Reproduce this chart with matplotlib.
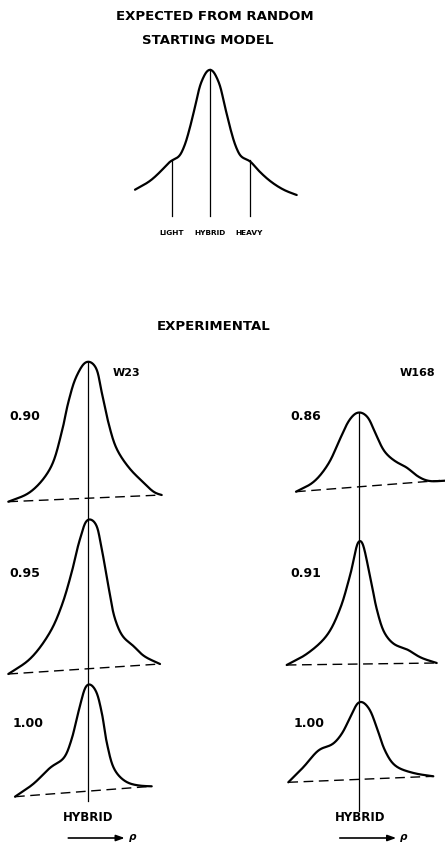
import numpy as np
import matplotlib
matplotlib.use("Agg")
import matplotlib.pyplot as plt

# ---------------- data (pixel coordinates) ----------------
title_lines = ["EXPECTED FROM RANDOM", "STARTING MODEL"]
model_labels = ["LIGHT", "HYBRID", "HEAVY"]
model_label_x = [171.7, 210.0, 249.5]

# expected model curve
model_x = [135.0, 150.0, 163.0, 171.7, 178.0, 184.0, 189.0, 195.0, 201.7, 210.0,
           218.3, 225.0, 231.0, 236.0, 242.0, 249.0, 257.0, 270.0, 284.0, 296.7]
model_y = [190.7, 182.0, 170.0, 161.0, 159.0, 148.0, 132.0, 108.0, 82.0, 69.3,
           82.0, 108.0, 132.0, 148.0, 159.0, 161.0, 170.0, 182.0, 191.0, 196.0]

# W23 panels
w23_090_x = [8.3, 30.0, 50.0, 61.7, 68.3, 76.7, 87.3, 95.0, 101.7, 108.3, 116.7, 130.0, 143.3, 155.0, 161.7]
w23_090_y = [502.7, 493.3, 470.0, 433.3, 403.3, 376.7, 361.7, 366.7, 393.3, 423.3, 450.0, 470.0, 483.3, 494.0, 496.0]
w23_095_x = [8.3, 30.0, 50.0, 61.7, 71.7, 80.0, 88.3, 95.0, 101.7, 108.3, 115.0, 123.3, 133.3, 143.3, 160.0]
w23_095_y = [675.0, 660.0, 633.3, 606.7, 573.3, 540.0, 519.3, 523.3, 550.0, 586.7, 620.0, 638.3, 646.7, 656.7, 665.0]
w23_100_x = [15.0, 33.3, 51.7, 63.3, 71.7, 78.3, 88.3, 95.0, 101.7, 106.7, 115.0, 126.7, 140.0, 151.7]
w23_100_y = [797.7, 785.0, 767.3, 760.0, 740.0, 713.3, 684.0, 690.0, 713.3, 743.3, 771.7, 783.3, 786.7, 787.3]

# W168 panels
w168_086_x = [296.0, 313.3, 328.3, 340.0, 350.0, 358.3, 366.7, 375.0, 385.0, 396.7, 406.7, 416.7, 428.0, 445.0]
w168_086_y = [492.7, 483.3, 465.0, 440.0, 420.0, 412.7, 416.7, 433.3, 453.3, 463.3, 468.3, 476.7, 482.0, 481.7]
w168_091_x = [286.7, 306.7, 326.7, 340.0, 350.0, 360.0, 370.0, 376.7, 385.0, 395.0, 406.7, 420.0, 436.7]
w168_091_y = [666.0, 655.0, 636.7, 610.0, 576.7, 540.0, 576.7, 610.0, 635.0, 646.0, 650.0, 658.3, 664.0]
w168_100_x = [288.3, 303.3, 320.0, 331.7, 341.7, 351.7, 360.0, 368.3, 376.7, 385.0, 395.0, 413.3, 433.3]
w168_100_y = [783.3, 768.3, 750.0, 746.0, 735.0, 715.0, 701.7, 708.3, 728.3, 751.7, 766.7, 774.0, 777.3]

# dashed baselines: (x0, y0, x1, y1)
base_x0 = [8.3, 8.3, 15.0, 296.0, 286.7, 288.3]
base_y0 = [502.7, 675.0, 797.7, 492.7, 666.0, 783.3]
base_x1 = [161.7, 160.0, 151.7, 440.0, 436.7, 433.3]
base_y1 = [496.0, 665.0, 787.3, 481.5, 664.0, 777.3]

panel_labels_left = ["0.90", "0.95", "1.00"]
panel_labels_right = ["0.86", "0.91", "1.00"]
label_y = [417.0, 574.0, 724.0]
strain_labels = ["W23", "W168"]


def catmull(x, y, n=24, alpha=0.5):
    """Centripetal Catmull-Rom drawing through the traced points."""
    P = np.column_stack([np.asarray(x, float), np.asarray(y, float)])
    P = np.vstack([2 * P[0] - P[1], P, 2 * P[-1] - P[-2]])
    pieces = []
    for i in range(1, len(P) - 2):
        p0, p1, p2, p3 = P[i - 1], P[i], P[i + 1], P[i + 2]
        t0 = 0.0
        t1 = t0 + np.linalg.norm(p1 - p0) ** alpha
        t2 = t1 + np.linalg.norm(p2 - p1) ** alpha
        t3 = t2 + np.linalg.norm(p3 - p2) ** alpha
        t = np.linspace(t1, t2, n, endpoint=False)[:, None]
        A1 = (t1 - t) / (t1 - t0) * p0 + (t - t0) / (t1 - t0) * p1
        A2 = (t2 - t) / (t2 - t1) * p1 + (t - t1) / (t2 - t1) * p2
        A3 = (t3 - t) / (t3 - t2) * p2 + (t - t2) / (t3 - t2) * p3
        B1 = (t2 - t) / (t2 - t0) * A1 + (t - t0) / (t2 - t0) * A2
        B2 = (t3 - t) / (t3 - t1) * A2 + (t - t1) / (t3 - t1) * A3
        C = (t2 - t) / (t2 - t1) * B1 + (t - t1) / (t2 - t1) * B2
        pieces.append(C)
    pieces.append(P[-2][None, :])
    return np.vstack(pieces)


def smooth(x, y, sigma=3.5, ds=0.5):
    """Pen-like stroke: spline, resample by arc length, light gaussian blur."""
    C = catmull(x, y)
    seg = np.linalg.norm(np.diff(C, axis=0), axis=1)
    s = np.concatenate([[0], np.cumsum(seg)])
    su = np.arange(0, s[-1], ds)
    su = np.append(su, s[-1])
    R = np.column_stack([np.interp(su, s, C[:, 0]), np.interp(su, s, C[:, 1])])
    k = int(3 * sigma / ds)
    g = np.exp(-0.5 * ((np.arange(-k, k + 1) * ds) / sigma) ** 2)
    g /= g.sum()
    left = 2 * R[0] - R[1:k + 1][::-1]
    right = 2 * R[-1] - R[-k - 1:-1][::-1]
    Rp = np.vstack([left, R, right])
    out = np.column_stack([np.convolve(Rp[:, 0], g, mode="valid"),
                           np.convolve(Rp[:, 1], g, mode="valid")])
    return out[:, 0], out[:, 1]


fig = plt.figure(figsize=(4.45, 8.45), dpi=100)
ax = fig.add_axes([0, 0, 1, 1])
ax.set_xlim(0, 445)
ax.set_ylim(845, 0)
ax.axis("off")

FONT = "DejaVu Sans"
curve_lw = 1.6
thin_lw = 0.9

# --- title ---
ax.text(215, 16, title_lines[0], ha="center", va="center", fontsize=9.5,
        fontweight="bold", family=FONT)
ax.text(208, 40, title_lines[1], ha="center", va="center", fontsize=9.5,
        fontweight="bold", family=FONT)

# --- model curve ---
sx, sy = smooth(model_x, model_y)
ax.plot(sx, sy, color="black", lw=curve_lw, solid_capstyle="round")
tick_tops = [161.0, 70.0, 161.0]
for lx, top in zip(model_label_x, tick_tops):
    ax.plot([lx, lx], [top, 217], color="black", lw=thin_lw)
for lab, lx in zip(model_labels, model_label_x):
    ax.text(lx, 233, lab, ha="center", va="center", fontsize=5.3,
            fontweight="bold", family=FONT)

# --- experimental ---
ax.text(214, 327, "EXPERIMENTAL", ha="center", va="center", fontsize=9.5,
        fontweight="bold", family=FONT)

curves = [(w23_090_x, w23_090_y), (w23_095_x, w23_095_y), (w23_100_x, w23_100_y),
          (w168_086_x, w168_086_y), (w168_091_x, w168_091_y), (w168_100_x, w168_100_y)]
for cx, cy in curves:
    sx, sy = smooth(cx, cy)
    ax.plot(sx, sy, color="black", lw=curve_lw, solid_capstyle="round")

for x0, y0, x1, y1 in zip(base_x0, base_y0, base_x1, base_y1):
    ax.plot([x0, x1], [y0, y1], color="black", lw=1.0, dashes=(7, 4))

# hybrid vertical lines
ax.plot([88, 88], [362.5, 802], color="black", lw=thin_lw)
ax.plot([359, 359], [413.5, 812], color="black", lw=thin_lw)

# labels
for lab, ly in zip(panel_labels_left, label_y):
    ax.text(9 if lab != "1.00" else 13, ly, lab, ha="left", va="center", fontsize=9,
            fontweight="bold", family=FONT)
for lab, ly in zip(panel_labels_right, label_y):
    ax.text(290 if lab != "1.00" else 294, ly, lab, ha="left", va="center", fontsize=9,
            fontweight="bold", family=FONT)
ax.text(113, 373, strain_labels[0], ha="left", va="center", fontsize=8,
        fontweight="bold", family=FONT)
ax.text(400, 373, strain_labels[1], ha="left", va="center", fontsize=8,
        fontweight="bold", family=FONT)

for cx in [88.5, 360]:
    ax.text(cx, 818, "HYBRID", ha="center", va="center", fontsize=8.5,
            fontweight="bold", family=FONT)
    ax.annotate("", xy=(cx + 39, 839), xytext=(cx - 23, 839),
                arrowprops=dict(arrowstyle="-|>,head_length=0.5,head_width=0.18",
                                color="black", lw=1.2))
    ax.text(cx + 40, 837, "ρ", ha="left", va="center", fontsize=7.5,
            fontweight="bold", style="italic", family=FONT)

fig.savefig("out.png", dpi=100)
